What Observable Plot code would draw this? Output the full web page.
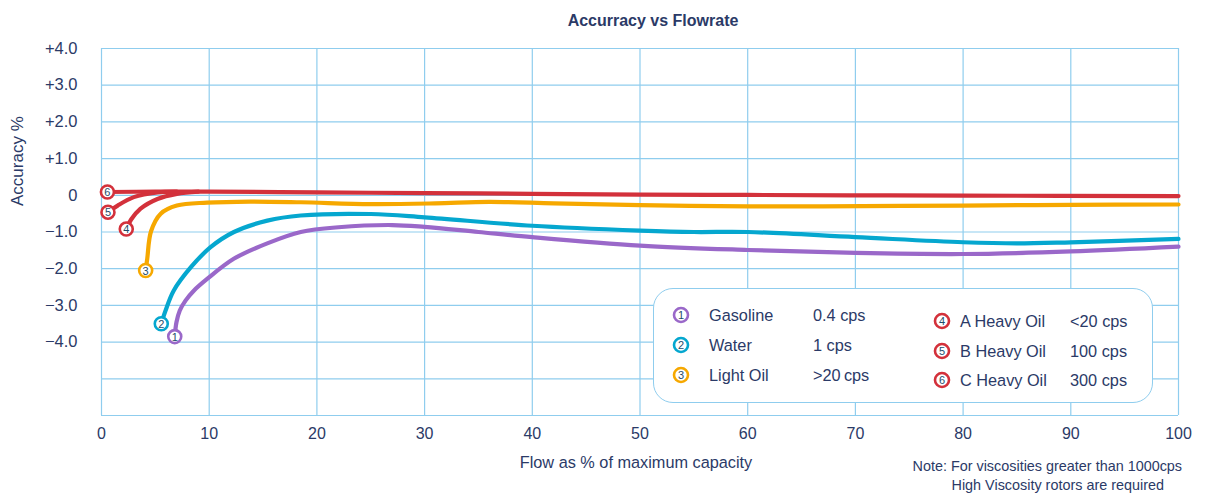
<!DOCTYPE html>
<html>
<head>
<meta charset="utf-8">
<script src="https://cdn.jsdelivr.net/npm/d3@7"></script>
<script src="https://cdn.jsdelivr.net/npm/@observablehq/plot@0.6"></script>
<style>
  body { margin: 0; background: #fff; font-family: "Liberation Sans", Arial, sans-serif; }
  #wrap { position: relative; width: 1205px; height: 494px; overflow: hidden; }
  #legend { position: absolute; left: 653px; top: 288px; width: 498px; height: 113px;
            border: 1.5px solid #8fcdee; border-radius: 20px; background: #fff; }
  .li { position: absolute; font-size: 16.3px; color: #2b3a67; line-height: 18px; white-space: nowrap; }
  .mk { position: absolute; }
</style>
</head>
<body>
<div id="wrap">
  <div id="chart"></div>
  <div id="legend"></div>
</div>
<script>
// ---- data (x = flow % of max capacity, y = accuracy %) ----
const gasoline = [[6.8,-3.85],[6.96,-3.46],[7.27,-3.14],[7.8,-2.87],[8.57,-2.6],[9.81,-2.28],[12.28,-1.73],[15.39,-1.31],[18.5,-1.0],[22,-0.87],[27,-0.81],[30,-0.86],[35,-1.0],[40,-1.14],[50,-1.37],[60,-1.49],[70,-1.57],[80,-1.6],[90,-1.53],[100,-1.4]];
const water = [[5.55,-3.5],[5.95,-3.14],[6.7,-2.6],[8.3,-1.96],[10.1,-1.42],[12.3,-1.0],[15.4,-0.69],[18.5,-0.55],[25,-0.51],[30,-0.6],[40,-0.83],[50,-0.96],[55,-1.0],[60,-1.0],[70,-1.14],[80,-1.28],[85,-1.31],[90,-1.28],[100,-1.19]];
const lightOil = [[4.1,-2.05],[4.25,-1.72],[4.6,-0.98],[5.5,-0.5],[7,-0.28],[9.8,-0.2],[13.8,-0.17],[18.5,-0.19],[25,-0.24],[31,-0.22],[36,-0.18],[42,-0.22],[50,-0.27],[60,-0.3],[67,-0.3],[80,-0.28],[90,-0.26],[100,-0.25]];
const heavyA = [[2.3,-0.92],[2.75,-0.66],[3.6,-0.37],[5.2,-0.1],[7,0.04],[9,0.1]];
const heavyB = [[0.6,-0.46],[1.5,-0.28],[3,-0.05],[5.2,0.08],[7,0.1]];
const heavyC = [[0.55,0.09],[5,0.1],[10,0.1],[20,0.08],[30,0.06],[40,0.04],[50,0.02],[60,0.01],[70,0.0],[80,-0.01],[100,-0.02]];

const seriesNames = ["Gasoline", "Water", "Light Oil", "A Heavy Oil", "B Heavy Oil", "C Heavy Oil"];
const seriesVisc = ["0.4 cps", "1 cps", ">20\u2009cps", "<20 cps", "100 cps", "300 cps"];
const seriesNums = ["1", "2", "3", "4", "5", "6"];
const seriesColors = ["#9a68c9", "#05a7cf", "#f6a800", "#d3313b", "#d3313b", "#d3313b"];
const seriesData = [gasoline, water, lightOil, heavyA, heavyB, heavyC];

const xTicks = [0, 10, 20, 30, 40, 50, 60, 70, 80, 90, 100];
const yGrid = [-6, -5, -4, -3, -2, -1, 0, 1, 2, 3, 4];
const yTicks = [-4, -3, -2, -1, 0, 1, 2, 3, 4];
const yTickLabels = ["\u22124.0", "\u22123.0", "\u22122.0", "\u22121.0", "0", "+1.0", "+2.0", "+3.0", "+4.0"];

const textColor = "#2b3a67";
const gridColor = "#8fcdee";

const lines = seriesData.map((pts, i) => Plot.line(pts, {
  x: d => d[0], y: d => d[1], stroke: seriesColors[i], strokeWidth: 4.2,
  curve: "catmull-rom", strokeLinecap: "round"
}));
const markers = seriesData.map((pts, i) => [
  Plot.dot([pts[0]], {x: d => d[0], y: d => d[1], r: 6.5, fill: "white", stroke: seriesColors[i], strokeWidth: 2.6}),
  Plot.text([pts[0]], {x: d => d[0], y: d => d[1], text: () => seriesNums[i], fill: "#1e4d6b", fontSize: 11, dy: 0.5})
]);

const chart = Plot.plot({
  width: 1205, height: 494,
  marginLeft: 101, marginRight: 27, marginTop: 48, marginBottom: 79,
  x: {domain: [0, 100]},
  y: {domain: [-6, 4]},
  style: {fontFamily: "'Liberation Sans', Arial, sans-serif", color: textColor, background: "white"},
  marks: [
    Plot.ruleX(xTicks, {stroke: gridColor, strokeWidth: 1.2}),
    Plot.ruleY(yGrid, {stroke: gridColor, strokeWidth: 1.2}),
    Plot.axisY(yTicks, {tickSize: 0, tickPadding: 24, fontSize: 16.5, label: null,
      tickFormat: d => yTickLabels[yTicks.indexOf(d)]}),
    Plot.axisX(xTicks, {tickSize: 0, tickPadding: 12, fontSize: 16, label: null, tickFormat: d => String(d)}),
    ...lines,
    ...markers.flat(),
    Plot.text(["Accurracy vs Flowrate"], {frameAnchor: "top", dy: -34, dx: 13, fontSize: 16, fontWeight: "bold", fill: textColor}),
    Plot.text(["Accuracy %"], {frameAnchor: "left", rotate: -90, dx: -84, dy: -26, fontSize: 17, fill: textColor}),
    Plot.text(["Flow as % of maximum capacity"], {frameAnchor: "bottom", dx: -4, dy: 52, fontSize: 16.3, fill: textColor}),
    Plot.text(["Note: For viscosities greater than 1000cps"], {frameAnchor: "bottom-left", textAnchor: "start", dx: 811, dy: 55, fontSize: 14.4, fill: textColor}),
    Plot.text(["High Viscosity rotors are required"], {frameAnchor: "bottom-left", textAnchor: "start", dx: 850, dy: 74, fontSize: 14.4, fill: textColor})
  ]
});
document.getElementById("chart").appendChild(chart);

// ---- legend ----
const legend = document.getElementById("legend");
const legendPos = [
  {mx: 27, my: 26, nx: 55, vx: 159},
  {mx: 27, my: 56, nx: 55, vx: 159},
  {mx: 27, my: 86, nx: 55, vx: 159},
  {mx: 288, my: 32, nx: 306, vx: 416},
  {mx: 288, my: 62, nx: 306, vx: 416},
  {mx: 288, my: 91, nx: 306, vx: 416}
];
seriesNames.forEach((name, i) => {
  const p = legendPos[i];
  const svg = document.createElementNS("http://www.w3.org/2000/svg", "svg");
  svg.setAttribute("width", 20); svg.setAttribute("height", 20);
  svg.setAttribute("class", "mk");
  svg.style.left = (p.mx - 10) + "px"; svg.style.top = (p.my - 10) + "px";
  svg.innerHTML = `<circle cx="10" cy="10" r="7" fill="white" stroke="${seriesColors[i]}" stroke-width="2.6"/>` +
    `<text x="10" y="10" dy="0.36em" text-anchor="middle" font-size="11" fill="#1e4d6b" font-family="Liberation Sans, Arial">${seriesNums[i]}</text>`;
  legend.appendChild(svg);
  const t = document.createElement("div");
  t.className = "li"; t.textContent = name;
  t.style.left = p.nx + "px"; t.style.top = (p.my - 9) + "px";
  legend.appendChild(t);
  const v = document.createElement("div");
  v.className = "li"; v.textContent = seriesVisc[i];
  v.style.left = p.vx + "px"; v.style.top = (p.my - 9) + "px";
  legend.appendChild(v);
});
</script>
</body>
</html>
